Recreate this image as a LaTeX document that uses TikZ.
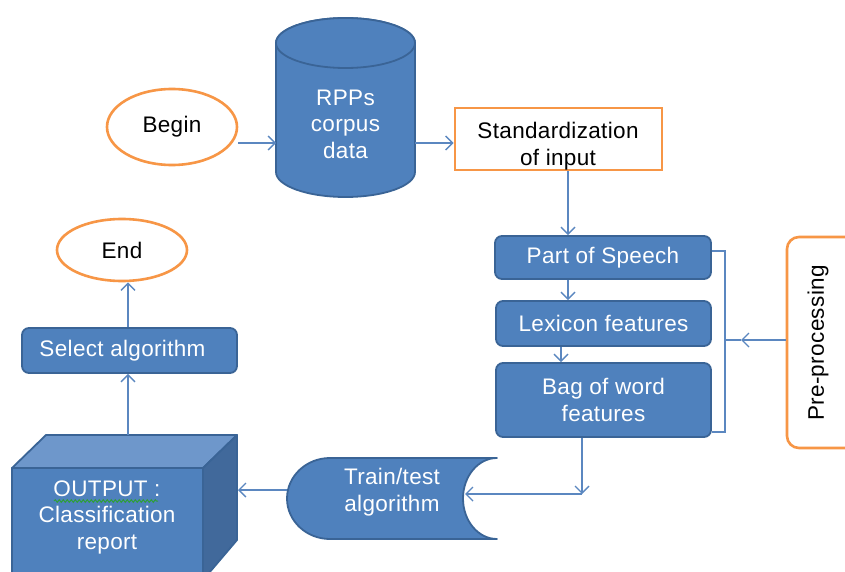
\documentclass[tikz,border=0pt]{standalone}
\usepackage{fontspec}
\setmainfont[LetterSpace=1.5]{Liberation Sans}
\usetikzlibrary{arrows.meta,shapes.geometric,decorations.pathmorphing}
\definecolor{boxblue}{HTML}{4F81BD}
\definecolor{edgeblue}{HTML}{3A6496}
\definecolor{lineblue}{HTML}{5B87C0}
\definecolor{accent}{HTML}{F79646}
\definecolor{cubetop}{HTML}{6E97CB}
\definecolor{cubeside}{HTML}{41699B}
\definecolor{wavy}{HTML}{2E9E3A}

\begin{document}
\begin{tikzpicture}[x=1pt,y=-1pt,
  font=\fontsize{22.5}{26.5}\selectfont,
  flow/.style={draw=lineblue, line width=1.4pt, -{Straight Barb[length=7pt,width=14pt]}},
  plain/.style={draw=lineblue, line width=1.4pt},
  bluebox/.style={draw=edgeblue, fill=boxblue, line width=1.8pt, rounded corners=7pt,
                  text=white, align=center, inner sep=0pt},
  bluesolid/.style={draw=edgeblue, fill=boxblue, line width=1.8pt, line join=round},
  oval/.style={ellipse, draw=accent, fill=white, line width=2.6pt, inner sep=0pt},
  orangebox/.style={draw=accent, fill=white, line width=2.6pt, inner sep=0pt},
  label/.style={align=center, inner sep=0pt},
  whitelabel/.style={label, text=white}]

\clip (0,0) rectangle (845,572);
\fill[white] (0,0) rectangle (845,572);

% start and end terminals
\node[oval, minimum width=130, minimum height=76] (begin) at (172,127) {Begin};
\node[oval, minimum width=130, minimum height=62] (end) at (122,250) {End};

% corpus cylinder
\path[bluesolid] (276,43) -- (276,172) arc (180:0:69.5 and 25) -- (415,43)
  arc (0:-180:69.5 and 25) -- cycle;
\draw[bluesolid] (345.5,43) ellipse (69.5 and 25);
\node[whitelabel] (rpp) at (345.5,124) {RPPs\\corpus\\data};
\coordinate (rpp-w) at (276,143);
\coordinate (rpp-e) at (415,143);

% standardization step
\node[orangebox, minimum width=207, minimum height=62] (std) at (558.5,139) {};
\node[label] (stdtext) at (558,146) {Standardization\\of input};

% feature extraction steps
\node[bluebox, minimum width=216, minimum height=43] (pos) at (603,257.5) {Part of Speech};
\node[bluebox, minimum width=215, minimum height=45] (lex) at (603.5,323.5) {Lexicon features};
\node[bluebox, minimum width=215, minimum height=74] (bag) at (603.5,400) {Bag of word\\features};

% pre-processing group label
\node[orangebox, rounded corners=12pt, minimum width=90, minimum height=211] (pre) at (832,342.5) {};
\node[label, rotate=90] (pretext) at (818,343) {Pre-processing};

% bracket round the three feature steps
\coordinate (brk) at (725,340);
\draw[plain] (pos.east |- 0,251) -- (725,251) -- (725,432) -- (bag.east |- 0,432);
\draw[plain] (brk) -- (741,340);
\draw[flow] (pre.west |- brk) -- (741,340);

% train/test stored-data shape
\path[bluesolid] (497,458) -- (330,458) arc (270:90:43 and 40.5) -- (497,539)
  arc (90:270:34 and 40.5) -- cycle;
\node[whitelabel] (train) at (392,492) {Train/test\\algorithm};
\coordinate (train-e) at (465,494);
\coordinate (train-w) at (287,490);

% output cube
\path[bluesolid, fill=cubetop] (12,468) -- (46,435) -- (237,435) -- (203,468) -- cycle;
\path[bluesolid, fill=cubeside] (203,468) -- (237,435) -- (237,540) -- (203,580) -- cycle;
\path[bluesolid] (12,468) rectangle (203,580);
\node[whitelabel] (out) at (107,517) {OUTPUT :\\Classification\\report};
\draw[wavy, line width=1pt, decorate, decoration={snake, amplitude=1.3pt, segment length=4pt}]
  (54,501) -- (158,501);
\coordinate (out-n) at (128,435);
\coordinate (out-e) at (238,490);

% final selection
\node[bluebox, minimum width=215, minimum height=45] (sel) at (129.5,350.5) {\hspace*{-14pt}Select algorithm};

% connectors
\coordinate (col1) at (568,0);
\coordinate (col2) at (561,0);
\coordinate (col3) at (582,0);
\coordinate (turn) at (582,494);
\coordinate (col4) at (128,0);
\draw[flow] (begin.east |- rpp-w) -- (rpp-w);
\draw[flow] (rpp-e) -- (std.west |- rpp-e);
\draw[flow] (std.south -| col1) -- (pos.north -| col1);
\draw[flow] (pos.south -| col1) -- (lex.north -| col1);
\draw[flow] (lex.south -| col2) -- (bag.north -| col2);
\draw[flow] (bag.south -| col3) -- (turn);
\draw[flow] (turn) -- (train-e);
\draw[flow] (train-w) -- (out-e);
\draw[flow] (out-n) -- (sel.south -| col4);
\draw[flow] (sel.north -| col4) -- (end.south -| col4);
\end{tikzpicture}
\end{document}
